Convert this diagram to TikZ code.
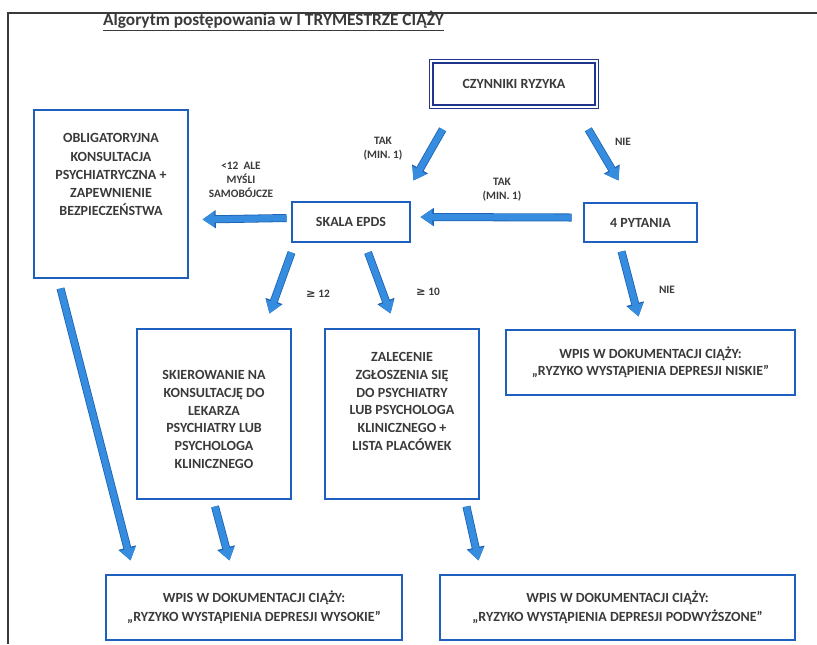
\documentclass[tikz,border=0pt]{standalone}
\usepackage{fontspec}
\setmainfont{Carlito}
\newfontfamily\symfont{DejaVu Sans}
\usetikzlibrary{arrows.meta, positioning, calc}
\definecolor{boxblue}{RGB}{31, 95, 190}
\definecolor{navyblue}{RGB}{30, 55, 140}
\definecolor{arrowblue}{RGB}{54, 140, 222}
\definecolor{arrowedge}{RGB}{28, 98, 178}
\definecolor{textgray}{RGB}{58, 58, 58}

\begin{document}
\begin{tikzpicture}[
  x=0.75pt, y=-0.75pt,
  box/.style={draw=boxblue, line width=2.2pt, text=textgray, font=\bfseries\fontsize{10.5}{13.5}\selectfont, align=center, inner sep=0pt},
  dblbox/.style={box, draw=navyblue, double=white, double distance=1.6pt, line width=1pt, minimum width=124pt, minimum height=34pt},
  lbl/.style={text=textgray, font=\bfseries\fontsize{8.5}{10.5}\selectfont, align=center, inner sep=0pt},
  arrow/.style={arrowblue, line width=4.8pt, -{Triangle[length=9pt, width=11.5pt]},
    preaction={draw=arrowedge, line width=6pt, -{Triangle[length=10pt, width=13pt]}}}
]
  \useasboundingbox (0,0) rectangle (817,644);

  % frame and title
  \draw[textgray, line width=1.1pt] (8,644) -- (8,13) -- (817,13);
  \node[text=textgray, font=\bfseries\fontsize{13}{15}\selectfont] (title) at (273.5,21) {\underline{Algorytm postępowania w I TRYMESTRZE CIĄŻY}};

  % top row
  \node[dblbox] (czynniki) at (514,84) {CZYNNIKI RYZYKA};
  \node[box, minimum width=115.5pt, minimum height=126pt] (oblig) at (111,194)
    {\parbox[c][126pt][t]{115.5pt}{\centering\fontsize{10.5}{13.7}\selectfont\vspace*{17.7pt}OBLIGATORYJNA\\KONSULTACJA\\PSYCHIATRYCZNA +\\ZAPEWNIENIE\\BEZPIECZEŃSTWA}};
  \node[box, minimum width=88.5pt, minimum height=30pt] (skala) at (351,222) {SKALA EPDS};
  \node[box, minimum width=84.75pt, minimum height=29.25pt] (pytania) at (640.5,222.5) {4 PYTANIA};

  % middle row
  \node[box, minimum width=115.5pt, minimum height=127.5pt] (skier) at (214,414)
    {\parbox[c][127.5pt][t]{115.5pt}{\centering\fontsize{10.5}{13.3}\selectfont\vspace*{31.2pt}SKIEROWANIE NA\\KONSULTACJĘ DO\\LEKARZA\\PSYCHIATRY LUB\\PSYCHOLOGA\\KLINICZNEGO}};
  \node[box, minimum width=115.5pt, minimum height=127.5pt] (zal) at (402,414)
    {\parbox[c][127.5pt][t]{115.5pt}{\centering\fontsize{10.5}{13.3}\selectfont\vspace*{17.7pt}ZALECENIE\\ZGŁOSZENIA SIĘ\\DO PSYCHIATRY\\LUB PSYCHOLOGA\\KLINICZNEGO +\\LISTA PLACÓWEK}};
  \node[box, minimum width=216.75pt, minimum height=48.75pt, font=\bfseries\fontsize{10.5}{12.75}\selectfont] (niskie) at (650.5,362.5)
    {WPIS W DOKUMENTACJI CIĄŻY:\\„RYZYKO WYSTĄPIENIA DEPRESJI NISKIE”};

  % bottom row
  \node[box, minimum width=222pt, minimum height=48.75pt, font=\bfseries\fontsize{10.5}{14}\selectfont] (wysokie) at (254,607.5)
    {WPIS W DOKUMENTACJI CIĄŻY:\\„RYZYKO WYSTĄPIENIA DEPRESJI WYSOKIE”};
  \node[box, minimum width=266.25pt, minimum height=48.75pt, font=\bfseries\fontsize{10.5}{14}\selectfont] (podw) at (617.5,607.5)
    {WPIS W DOKUMENTACJI CIĄŻY:\\„RYZYKO WYSTĄPIENIA DEPRESJI PODWYŻSZONE”};

  % arrows
  \draw[arrow] ([shift={(12,22)}]czynniki.south west) -- ([shift={(2,-20)}]skala.north east);
  \draw[arrow] ([shift={(-9,22)}]czynniki.south east) -- ([shift={(36,-21)}]pytania.north west);
  \draw[arrow] ([shift={(-11,-5)}]pytania.west) -- ([shift={(9,-5)}]skala.east);
  \draw[arrow] ([shift={(-4,-4)}]skala.west) -- ([shift={(13,-60)}]oblig.south east);
  \draw[arrow] ([shift={(1,9)}]skala.south west) -- ([shift={(-23,-14)}]skier.north east);
  \draw[arrow] ([shift={(17,9)}]skala.south) -- ([shift={(67,-14)}]zal.north west);
  \draw[arrow] ([shift={(39,8)}]pytania.south west) -- ([shift={(134,-12)}]niskie.north west);
  \draw[arrow] ([shift={(28,9)}]oblig.south west) -- ([shift={(26,-13)}]wysokie.north west);
  \draw[arrow] ([shift={(1,6)}]skier.south) -- ([shift={(125,-13)}]wysokie.north west);
  \draw[arrow] ([shift={(-14,6)}]zal.south east) -- ([shift={(40,-13)}]podw.north west);

  % arrow labels
  \node[lbl] (takA) at (383,149) {TAK\\(MIN. 1)};
  \node[lbl] (nieA) at (623,142) {NIE};
  \node[lbl] (takB) at (502,190) {TAK\\(MIN. 1)};
  \node[lbl] (mysli) at (241,180) {<12~~ALE\\MYŚLI\\SAMOBÓJCZE};
  \node[lbl] (ge12) at (318,294) {{\symfont ≥} 12};
  \node[lbl] (ge10) at (428,292) {{\symfont ≥} 10};
  \node[lbl] (nieB) at (667,290) {NIE};
\end{tikzpicture}
\end{document}
